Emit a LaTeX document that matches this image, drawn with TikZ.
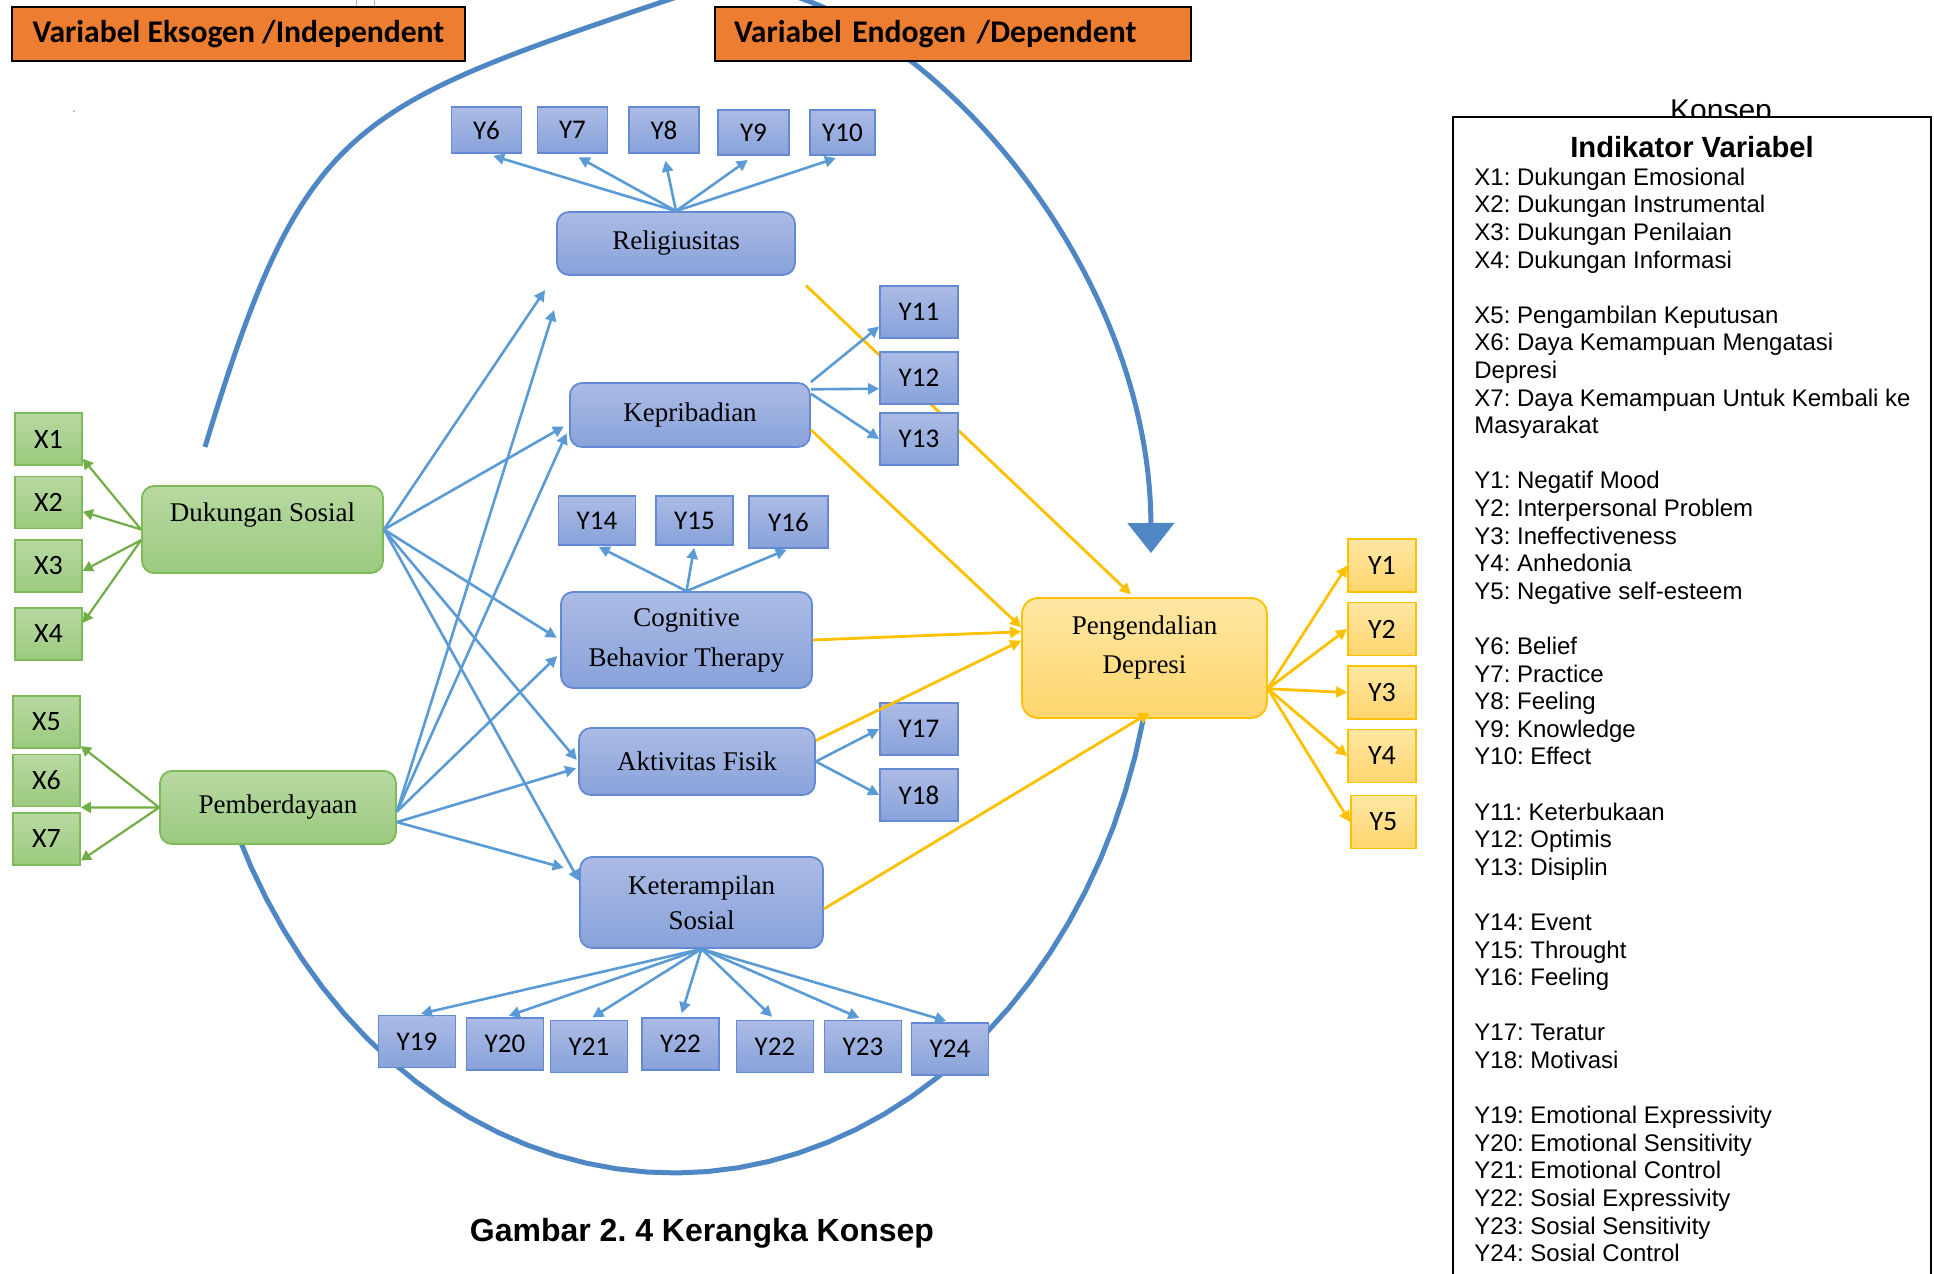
\documentclass[tikz,border=0pt]{standalone}
\usepackage{fontspec}
\setmainfont{Liberation Serif}
\newfontfamily\carlito{Carlito}
\newfontfamily\arialf{Liberation Sans}
\usetikzlibrary{arrows.meta,backgrounds}
\frenchspacing

\definecolor{hdrorange}{RGB}{237,125,49}
\definecolor{loopblue}{RGB}{79,135,197}
\definecolor{lnblue}{RGB}{91,155,213}
\definecolor{bluebd}{RGB}{100,138,214}
\definecolor{bluetop}{RGB}{172,187,229}
\definecolor{bluebot}{RGB}{136,162,218}
\definecolor{grnbd}{RGB}{125,186,88}
\definecolor{grntop}{RGB}{184,217,162}
\definecolor{grnbot}{RGB}{156,202,126}
\definecolor{lngreen}{RGB}{112,173,71}
\definecolor{yelbd}{RGB}{255,192,0}
\definecolor{yeltop}{RGB}{255,231,163}
\definecolor{yelbot}{RGB}{255,213,110}

\begin{document}
\begin{tikzpicture}[x=0.5pt,y=-0.5pt,
    hdrbox/.style={draw=black, line width=0.9pt, fill=hdrorange, minimum height=27pt,
      inner xsep=9.5pt, inner ysep=0pt, font=\carlito\bfseries\fontsize{15.8}{16}\selectfont},
    grnnode/.style={draw=grnbd, line width=0.9pt, top color=grntop, bottom color=grnbot,
      rounded corners=6pt, align=center, font=\fontsize{13.5}{19}\selectfont},
    varnode/.style={draw=bluebd, line width=0.9pt, top color=bluetop, bottom color=bluebot,
      rounded corners=6pt, align=center, font=\fontsize{13.5}{20}\selectfont},
    yelnode/.style={draw=yelbd, line width=0.9pt, top color=yeltop, bottom color=yelbot,
      rounded corners=8pt, align=center, font=\fontsize{13.5}{19.5}\selectfont},
    xbox/.style={draw=grnbd, line width=0.9pt, top color=grntop, bottom color=grnbot,
      minimum width=33.5pt, minimum height=26pt, inner sep=0pt, font=\carlito\fontsize{14}{14}\selectfont},
    ybox/.style={draw=bluebd, line width=0.9pt, top color=bluetop, bottom color=bluebot,
      minimum width=38.5pt, minimum height=26pt, inner sep=0pt, font=\carlito\fontsize{13.5}{14}\selectfont},
    yybox/.style={draw=yelbd, line width=0.9pt, top color=yeltop, bottom color=yelbot,
      minimum width=34pt, minimum height=26.5pt, inner sep=0pt, font=\carlito\fontsize{14}{14}\selectfont},
    garrow/.style={draw=lngreen, line width=1.1pt, -{Triangle[length=5pt,width=5.5pt]}},
    blarrow/.style={draw=lnblue, line width=1.3pt, -{Triangle[length=5.5pt,width=5.5pt]}},
    yarrow/.style={draw=yelbd, line width=1.4pt, -{Triangle[length=5.5pt,width=5.5pt]}}]

\useasboundingbox (0,0) rectangle (1934,1274);

% headers
\draw[gray!60, fill=white] (356,-4) rectangle (374,6);
\node[hdrbox, minimum width=226.5pt, align=center] (hdrexo) at (238.5,34) {Variabel Eksogen /Independent};
\node[hdrbox, text width=219pt, align=left] (hdrendo) at (953,34) {Variabel Endogen /Dependent};
\fill[gray!60] (74,111) circle (1.2);

% exogenous variables
\node[grnnode, minimum width=120.5pt, minimum height=43.5pt, text height=10pt, text depth=18pt] (dukungan) at (262.5,529.5) {Dukungan Sosial};
\node[grnnode, minimum width=118pt, minimum height=36.5pt] (pemberdayaan) at (278,807.5) {Pemberdayaan};
\foreach \n/\yy in {1/439,2/502.5,3/566,4/634}
  \node[xbox] (x\n) at (48.5,\yy) {X\n};
\foreach \n/\yy in {5/722,6/780.5,7/839}
  \node[xbox] (x\n) at (46.5,\yy) {X\n};

% mediating variables
\node[varnode, minimum width=119pt, minimum height=31.5pt] (religi) at (676,243.5) {Religiusitas};
\node[varnode, minimum width=120pt, minimum height=32pt] (kepri) at (690,415) {Kepribadian};
\node[varnode, minimum width=125.5pt, minimum height=48pt] (cbt) at (686.5,640) {Cognitive\\Behavior Therapy};
\node[varnode, minimum width=118pt, minimum height=33.5pt] (aktiv) at (697,761.5) {Aktivitas Fisik};
\node[varnode, minimum width=121.5pt, minimum height=45.5pt, font=\fontsize{13.5}{17.5}\selectfont] (ketsos) at (701.5,902.5) {Keterampilan\\Sosial};

% dependent variable
\node[yelnode, minimum width=122.5pt, minimum height=60pt, text depth=13.5pt] (depresi) at (1144.5,658) {Pengendalian\\Depresi};

% indicator boxes
\foreach \n/\xx in {6/486.5,7/572.5,8/664}
  \node[ybox, minimum width=35pt, minimum height=23pt] (y\n) at (\xx,130) {Y\n};
\node[ybox, minimum width=35.5pt, minimum height=22.5pt] (y9) at (753.5,132.5) {Y9};
\node[ybox, minimum width=32.5pt, minimum height=22.5pt] (y10) at (842.5,132.5) {Y10};
\foreach \n/\yy in {11/312,12/378,13/439,17/729,18/795}
  \node[ybox, minimum width=39pt] (y\n) at (919,\yy) {Y\n};
\node[ybox, minimum height=24.5pt] (y14) at (597,520.5) {Y14};
\node[ybox, minimum height=24.5pt] (y15) at (694.5,520.5) {Y15};
\node[ybox, minimum width=39.5pt] (y16) at (788.5,522) {Y16};
\foreach \n/\xx/\yy in {19/417/1041.5,20/505/1044,21/589/1046.5,22/680.5/1044,22b/775/1046.5,23/863/1046.5,24/950/1049}
  \node[ybox] (y\n) at (\xx,\yy) {};
\foreach \n in {19,20,21,22,23,24}
  \node[font=\carlito\fontsize{13.5}{14}\selectfont] at (y\n) {Y\n};
\node[font=\carlito\fontsize{13.5}{14}\selectfont] at (y22b) {Y22};
\foreach \n/\yy in {1/565.5,2/629,3/692.5,4/756}
  \node[yybox] (yy\n) at (1382,\yy) {Y\n};
\node[yybox, minimum width=32.5pt] (yy5) at (1383.5,822) {Y5};

% big loop
\begin{pgfonlayer}{background}
\draw[loopblue, line width=2.5pt, -{Triangle[length=15pt,width=23pt]}]
  (205,447) .. controls (301,130) and (347,109) .. (647,7)
  .. controls (680,-4) and (700,-12) .. (730,-15)
  .. controls (900,-15) and (1150,250) .. (1151,553);
\draw[loopblue, line width=2.5pt]
  plot[domain=13.3:155, samples=40] ({674+482*cos(\x)},{585+588*sin(\x)});
\draw[yarrow, shorten <=7pt, shorten >=2pt] (religi.south east) -- (depresi.100);
\end{pgfonlayer}

% exogenous indicators
\draw[garrow] (dukungan.west) -- (x1.-30);
\draw[garrow] (dukungan.west) -- (x2.-15);
\draw[garrow] (dukungan.185) -- (x3.-8);
\draw[garrow] (dukungan.185) -- (x4.18);
\draw[garrow] (pemberdayaan.west) -- (x5.-35);
\draw[garrow] (pemberdayaan.west) -- (x6.-38);
\draw[garrow] (pemberdayaan.west) -- (x7.-32);

% exogenous -> mediators
\coordinate (relin1) at (545,290);
\coordinate (relin2) at (554,310);
\draw[blarrow] (dukungan.east) -- (relin1);
\draw[blarrow] (pemberdayaan.-2) -- (relin2);
\draw[blarrow, shorten >=3pt] (dukungan.east) -- (kepri.184);
\draw[blarrow, shorten >=3pt] (pemberdayaan.-2) -- (kepri.186);
\draw[blarrow, shorten >=2pt] (dukungan.east) -- (cbt.west);
\draw[blarrow, shorten >=2pt] (pemberdayaan.-2) -- (cbt.186);
\draw[blarrow, shorten >=1pt] (dukungan.east) -- (aktiv.west);
\draw[blarrow, shorten >=1pt] (pemberdayaan.-7) -- (aktiv.183);
\draw[blarrow] (dukungan.east) -- (ketsos.170);
\draw[blarrow, shorten >=8pt] (pemberdayaan.-7) -- (ketsos.166);

% mediator indicators
\foreach \n in {6,...,10}
  \draw[blarrow, shorten >=3.5pt] (religi.north) -- (y\n.south);
\draw[blarrow] (kepri.north east) -- (y11.200);
\draw[blarrow] (kepri.12) -- (y12.195);
\draw[blarrow] (kepri.10) -- (y13.west);
\foreach \n in {14,15,16}
  \draw[blarrow, shorten >=1pt] (cbt.north) -- (y\n.south);
\draw[blarrow] (aktiv.east) -- (y17.west);
\draw[blarrow] (aktiv.east) -- (y18.west);
\foreach \n in {19,20,21,22,22b,23,24}
  \draw[blarrow, shorten >=2pt] (ketsos.south) -- (y\n.north);

% mediators -> dependent
\draw[yarrow] (kepri.-7) -- (depresi.166);
\draw[yarrow] (cbt.east) -- (depresi.168);
\draw[yarrow] (aktiv.10) -- (depresi.172);
\draw[yarrow, shorten >=-6pt] (ketsos.-3) -- (depresi.265);
\foreach \n in {1,...,5}
  \draw[yarrow] (depresi.-14) -- (yy\n.west);

% legend
\node[anchor=base, font=\arialf\fontsize{15}{15}\selectfont] (konsep) at (1721,120.5) {Konsep};
\draw[line width=0.8pt, fill=white] (1453,117) rectangle (1931,1290);
\node[anchor=base, font=\arialf\bfseries\fontsize{14.6}{15}\selectfont] (legtitle) at (1692,157) {Indikator Variabel};
\node[anchor=north west, align=left, inner sep=0pt, font=\arialf\fontsize{12}{13.8}\selectfont] (legtext) at (1474,167.4) {%
X1: Dukungan Emosional\\
X2: Dukungan Instrumental\\
X3: Dukungan Penilaian\\
X4: Dukungan Informasi\\[13.8pt]
X5: Pengambilan Keputusan\\
X6: Daya Kemampuan Mengatasi\\
Depresi\\
X7: Daya Kemampuan Untuk Kembali ke\\
Masyarakat\\[13.8pt]
Y1: Negatif Mood\\
Y2: Interpersonal Problem\\
Y3: Ineffectiveness\\
Y4: Anhedonia\\
Y5: Negative self-esteem\\[13.8pt]
Y6: Belief\\
Y7: Practice\\
Y8: Feeling\\
Y9: Knowledge\\
Y10: Effect\\[13.8pt]
Y11: Keterbukaan\\
Y12: Optimis\\
Y13: Disiplin\\[13.8pt]
Y14: Event\\
Y15: Throught\\
Y16: Feeling\\[13.8pt]
Y17: Teratur\\
Y18: Motivasi\\[13.8pt]
Y19: Emotional Expressivity\\
Y20: Emotional Sensitivity\\
Y21: Emotional Control\\
Y22: Sosial Expressivity\\
Y23: Sosial Sensitivity\\
Y24: Sosial Control};

% caption
\node[font=\arialf\bfseries\fontsize{16}{16}\selectfont] (caption) at (702,1233) {Gambar 2. 4 Kerangka Konsep};

\end{tikzpicture}
\end{document}
